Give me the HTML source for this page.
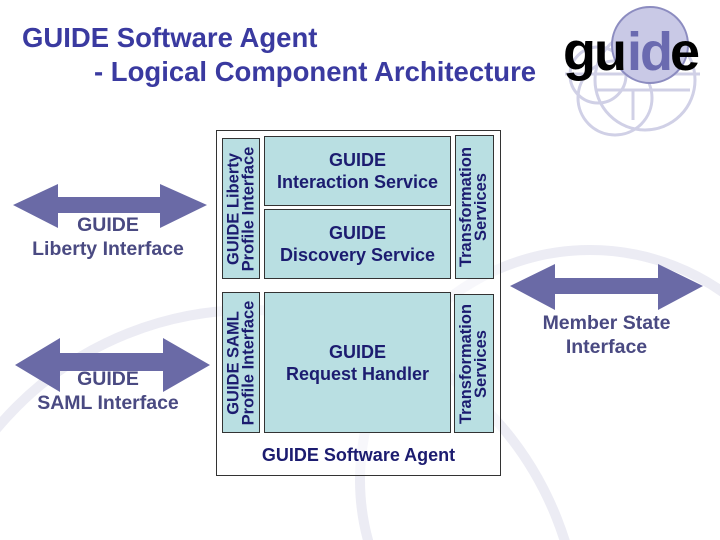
<!DOCTYPE html>
<html><head><meta charset="utf-8"><style>
html,body{margin:0;width:720px;height:540px;overflow:hidden}
body{background:#fff;position:relative;font-family:"Liberation Sans",sans-serif;font-weight:bold}
.a{position:absolute}
.box{position:absolute;background:#b9dfe2;border:1px solid #333;box-sizing:border-box;color:#1c1c70;text-align:center;font-size:18px;line-height:22px;display:flex;align-items:center;justify-content:center}
.v{position:absolute;display:flex;align-items:center;justify-content:center}
.v span{transform:rotate(-90deg);white-space:nowrap;text-align:center;font-size:16.5px;line-height:15px;color:#1c1c70}
.lbl{position:absolute;color:#4a4a82;font-size:19.5px;line-height:24px;text-align:center}
</style></head><body>
<svg class="a" style="left:0;top:0" width="720" height="540">
<g fill="none" stroke="#ececf4" stroke-width="10">
<circle cx="590" cy="480" r="230"/>
<circle cx="250" cy="640" r="330"/>
</g>
<g fill="none" stroke="#d0d0e6" stroke-width="3">
<circle cx="645" cy="80" r="50"/>
<circle cx="615" cy="98" r="37"/>
<circle cx="598" cy="75" r="28"/>
<line x1="565" y1="74" x2="700" y2="74"/>
<line x1="595" y1="90" x2="690" y2="90"/>
<line x1="633" y1="90" x2="633" y2="120"/>
</g>
<circle cx="650" cy="45" r="38" fill="#c9c9e6" stroke="#8c8cc0" stroke-width="2"/>
<text x="563" y="70" font-family="Liberation Sans" font-weight="bold" font-size="54" fill="#000" letter-spacing="-2">gu</text>
<text x="627" y="70" font-family="Liberation Sans" font-weight="bold" font-size="54" fill="#6a6ab0" letter-spacing="-2">id</text>
<text x="670" y="70" font-family="Liberation Sans" font-weight="bold" font-size="54" fill="#000" letter-spacing="-2" textLength="30">e</text>
<g fill="#6a6aa6">
<polygon points="13,205 58,184 58,197 160,197 160,184 207,205 160,228 160,213 58,213 58,228"/>
<polygon points="15,365 60,338 60,353 163,353 163,338 210,365 163,392 163,371 60,371 60,392"/>
<polygon points="510,286 555,264 555,278 658,278 658,264 703,286 658,310 658,294 555,294 555,310"/>
</g>
</svg>
<div class="a" style="left:22px;top:21px;font-size:27.5px;line-height:34px;color:#3a3aa0;white-space:nowrap">GUIDE Software Agent<br><span style="padding-left:72px">- Logical Component Architecture</span></div>
<div class="a" style="left:216px;top:130px;width:285px;height:346px;border:1px solid #333;box-sizing:border-box;background:rgba(255,255,255,0.6)"></div>
<div class="box" style="left:222px;top:138px;width:38px;height:141px"></div>
<div class="v" style="left:222px;top:138px;width:38px;height:141px"><span>GUIDE Liberty<br>Profile Interface</span></div>
<div class="box" style="left:264px;top:136px;width:187px;height:70px">GUIDE<br>Interaction Service</div>
<div class="box" style="left:264px;top:209px;width:187px;height:70px">GUIDE<br>Discovery Service</div>
<div class="box" style="left:455px;top:135px;width:39px;height:144px"></div>
<div class="v" style="left:455px;top:135px;width:39px;height:144px"><span>Transformation<br>Services</span></div>
<div class="box" style="left:222px;top:292px;width:38px;height:141px"></div>
<div class="v" style="left:222px;top:292px;width:38px;height:141px"><span>GUIDE SAML<br>Profile Interface</span></div>
<div class="box" style="left:264px;top:292px;width:187px;height:141px">GUIDE<br>Request Handler</div>
<div class="box" style="left:454px;top:294px;width:40px;height:139px"></div>
<div class="v" style="left:454px;top:294px;width:40px;height:139px"><span>Transformation<br>Services</span></div>
<div class="a" style="left:216px;top:444px;width:285px;text-align:center;font-size:18px;line-height:22px;color:#1c1c70">GUIDE Software Agent</div>
<div class="lbl" style="left:0;top:213px;width:216px">GUIDE<br>Liberty Interface</div>
<div class="lbl" style="left:0;top:367px;width:216px">GUIDE<br>SAML Interface</div>
<div class="lbl" style="left:505px;top:311px;width:203px">Member State<br>Interface</div>
</body></html>
